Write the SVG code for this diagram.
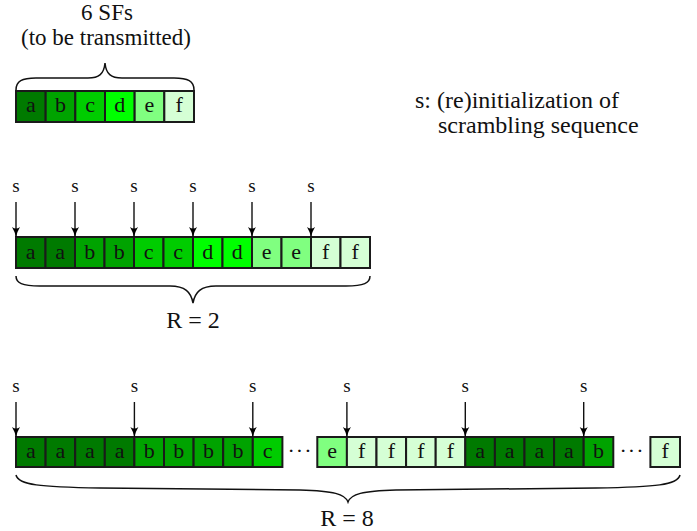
<svg xmlns="http://www.w3.org/2000/svg" width="697" height="531" viewBox="0 0 697 531">
<defs>
<marker id="ah" markerWidth="10" markerHeight="10" viewBox="0 0 10 10" refX="10" refY="5" orient="auto" markerUnits="userSpaceOnUse">
<path d="M0,1 Q5,4 10,5 Q5,6 0,9 Q3,5 0,1 Z" fill="#000"/>
</marker>
<style>
text{font-family:"Liberation Serif","Times New Roman",serif;fill:#111}
.t{font-size:23px;text-anchor:middle}
.c{font-size:22px;text-anchor:middle}
.s{font-size:19px;text-anchor:middle}
.n{font-size:24px}
rect{stroke:#1a1a1a;stroke-width:2}
.A{fill:#007a00}.B{fill:#00a300}.C{fill:#00cc00}.D{fill:#00ff00}.E{fill:#80ff80}.F{fill:#d5ffd5}
.br{fill:none;stroke:#111;stroke-width:1.5}
.ar{stroke:#111;stroke-width:1.4;marker-end:url(#ah)}
</style>
</defs>

<g id="title">
<text class="t" x="107" y="20">6 SFs</text>
<text class="t" x="106" y="45">(to be transmitted)</text>
<path class="br" d="M16,90 C16,81 22,78 36,78 L88,78 C99,78 104,74 105,63 C106,74 111,78 122,78 L174,78 C188,78 194,81 194,90"/>
</g>

<g id="legend">
<text class="n" x="415" y="108">s: (re)initialization of</text>
<text class="n" x="438" y="133">scrambling sequence</text>
</g>

<g id="row1">
<rect class="A" x="16" y="91" width="29.67" height="31"/><text class="c" x="30.8" y="112">a</text>
<rect class="B" x="45.67" y="91" width="29.67" height="31"/><text class="c" x="60.5" y="112">b</text>
<rect class="C" x="75.33" y="91" width="29.67" height="31"/><text class="c" x="90.2" y="112">c</text>
<rect class="D" x="105" y="91" width="29.67" height="31"/><text class="c" x="119.8" y="112">d</text>
<rect class="E" x="134.67" y="91" width="29.67" height="31"/><text class="c" x="149.5" y="112">e</text>
<rect class="F" x="164.33" y="91" width="29.67" height="31"/><text class="c" x="179.2" y="112">f</text>
</g>

<g id="row2">
<rect class="A" x="16" y="237" width="29.5" height="31"/><text class="c" x="30.75" y="259">a</text>
<rect class="A" x="45.5" y="237" width="29.5" height="31"/><text class="c" x="60.25" y="259">a</text>
<rect class="B" x="75" y="237" width="29.5" height="31"/><text class="c" x="89.75" y="259">b</text>
<rect class="B" x="104.5" y="237" width="29.5" height="31"/><text class="c" x="119.25" y="259">b</text>
<rect class="C" x="134" y="237" width="29.5" height="31"/><text class="c" x="148.75" y="259">c</text>
<rect class="C" x="163.5" y="237" width="29.5" height="31"/><text class="c" x="178.25" y="259">c</text>
<rect class="D" x="193" y="237" width="29.5" height="31"/><text class="c" x="207.75" y="259">d</text>
<rect class="D" x="222.5" y="237" width="29.5" height="31"/><text class="c" x="237.25" y="259">d</text>
<rect class="E" x="252" y="237" width="29.5" height="31"/><text class="c" x="266.75" y="259">e</text>
<rect class="E" x="281.5" y="237" width="29.5" height="31"/><text class="c" x="296.25" y="259">e</text>
<rect class="F" x="311" y="237" width="29.5" height="31"/><text class="c" x="325.75" y="259">f</text>
<rect class="F" x="340.5" y="237" width="29.5" height="31"/><text class="c" x="355.25" y="259">f</text>
<path class="br" d="M16,276 C16,283 22,286 40,286 L170,286 C185,286 191,292 193,303 C195,292 201,286 216,286 L346,286 C364,286 370,283 370,276"/>
<text class="t" x="193" y="328" style="font-size:24px">R = 2</text>
</g>

<g id="row3">
<rect class="A" x="16" y="437" width="29.6" height="30"/><text class="c" x="30.8" y="458">a</text>
<rect class="A" x="45.6" y="437" width="29.6" height="30"/><text class="c" x="60.4" y="458">a</text>
<rect class="A" x="75.2" y="437" width="29.6" height="30"/><text class="c" x="90" y="458">a</text>
<rect class="A" x="104.8" y="437" width="29.6" height="30"/><text class="c" x="119.6" y="458">a</text>
<rect class="B" x="134.4" y="437" width="29.6" height="30"/><text class="c" x="149.2" y="458">b</text>
<rect class="B" x="164" y="437" width="29.6" height="30"/><text class="c" x="178.8" y="458">b</text>
<rect class="B" x="193.6" y="437" width="29.6" height="30"/><text class="c" x="208.4" y="458">b</text>
<rect class="B" x="223.2" y="437" width="29.6" height="30"/><text class="c" x="238" y="458">b</text>
<rect class="C" x="252.8" y="437" width="29.6" height="30"/><text class="c" x="267.6" y="458">c</text>
<text class="c" x="300" y="458" style="letter-spacing:1px">···</text>
<rect class="E" x="317.3" y="437" width="29.6" height="30"/><text class="c" x="332.1" y="458">e</text>
<rect class="F" x="346.9" y="437" width="29.6" height="30"/><text class="c" x="361.7" y="458">f</text>
<rect class="F" x="376.5" y="437" width="29.6" height="30"/><text class="c" x="391.3" y="458">f</text>
<rect class="F" x="406.1" y="437" width="29.6" height="30"/><text class="c" x="420.9" y="458">f</text>
<rect class="F" x="435.7" y="437" width="29.6" height="30"/><text class="c" x="450.5" y="458">f</text>
<rect class="A" x="465.3" y="437" width="29.6" height="30"/><text class="c" x="480.1" y="458">a</text>
<rect class="A" x="494.9" y="437" width="29.6" height="30"/><text class="c" x="509.7" y="458">a</text>
<rect class="A" x="524.5" y="437" width="29.6" height="30"/><text class="c" x="539.3" y="458">a</text>
<rect class="A" x="554.1" y="437" width="29.6" height="30"/><text class="c" x="568.9" y="458">a</text>
<rect class="B" x="583.7" y="437" width="29.6" height="30"/><text class="c" x="598.5" y="458">b</text>
<text class="c" x="632" y="458" style="letter-spacing:1px">···</text>
<rect class="F" x="650.4" y="437" width="29.6" height="30"/><text class="c" x="665.2" y="458">f</text>
<path class="br" d="M16,475 C18,485 40,487 100,488 L300,490 C334,491 345,494 348,502 C351,494 362,491 396,490 L596,488 C656,487 678,485 680,475"/>
<text class="t" x="347" y="526" style="font-size:24px">R = 8</text>
</g>

<g id="connectors">
<text class="s" x="16" y="192">s</text><line class="ar" x1="16" y1="202" x2="16" y2="237"/>
<text class="s" x="75" y="192">s</text><line class="ar" x1="75" y1="202" x2="75" y2="237"/>
<text class="s" x="134" y="192">s</text><line class="ar" x1="134" y1="202" x2="134" y2="237"/>
<text class="s" x="193" y="192">s</text><line class="ar" x1="193" y1="202" x2="193" y2="237"/>
<text class="s" x="252" y="192">s</text><line class="ar" x1="252" y1="202" x2="252" y2="237"/>
<text class="s" x="311" y="192">s</text><line class="ar" x1="311" y1="202" x2="311" y2="237"/>
<text class="s" x="16" y="392">s</text><line class="ar" x1="16" y1="402" x2="16" y2="437"/>
<text class="s" x="134.4" y="392">s</text><line class="ar" x1="134.4" y1="402" x2="134.4" y2="437"/>
<text class="s" x="252.8" y="392">s</text><line class="ar" x1="252.8" y1="402" x2="252.8" y2="437"/>
<text class="s" x="346.9" y="392">s</text><line class="ar" x1="346.9" y1="402" x2="346.9" y2="437"/>
<text class="s" x="465.3" y="392">s</text><line class="ar" x1="465.3" y1="402" x2="465.3" y2="437"/>
<text class="s" x="583.7" y="392">s</text><line class="ar" x1="583.7" y1="402" x2="583.7" y2="437"/>
</g>
</svg>
